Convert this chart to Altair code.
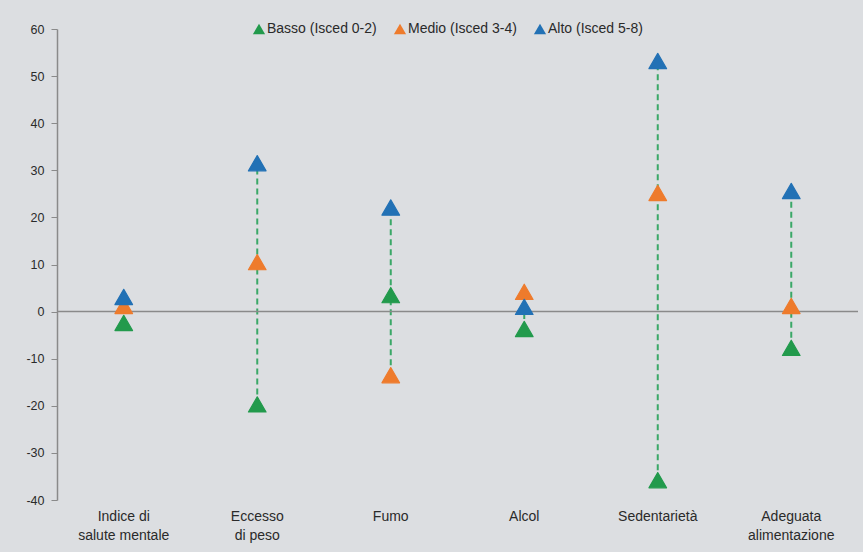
import altair as alt
import pandas as pd

categories = ["Indice di salute mentale", "Eccesso di peso", "Fumo", "Alcol",
              "Sedentarietà", "Adeguata alimentazione"]
label_lines = {
    "Indice di salute mentale": ["Indice di", "salute mentale"],
    "Eccesso di peso": ["Eccesso", "di peso"],
    "Fumo": ["Fumo"],
    "Alcol": ["Alcol"],
    "Sedentarietà": ["Sedentarietà"],
    "Adeguata alimentazione": ["Adeguata", "alimentazione"],
}
series = ["Basso (Isced 0-2)", "Medio (Isced 3-4)", "Alto (Isced 5-8)"]
basso = [-2.4, -19.7, 3.5, -3.7, -35.8, -7.7]
medio = [1.2, 10.5, -13.5, 4.2, 25.2, 1.2]
alto = [3.1, 31.5, 22.1, 1.0, 53.2, 25.6]
colors = ["#229a4c", "#ee7b2c", "#2271b5"]
y_ticks = [-40, -30, -20, -10, 0, 10, 20, 30, 40, 50, 60]

rows = []
for i, c in enumerate(categories):
    for s, vals in zip(series, [basso, medio, alto]):
        rows.append({"cat": c, "serie": s, "value": vals[i], "ord": series.index(s)})
df = pd.DataFrame(rows)

expr = ""
for c in categories:
    arr = "[" + ",".join("'" + l + "'" for l in label_lines[c]) + "]"
    expr += "datum.value == '" + c + "' ? " + arr + " : "
expr += "datum.label"

FONT = "Arial"
TXT = "#2a2a2a"

x_enc = alt.X("cat:N", sort=categories,
              scale=alt.Scale(paddingInner=0, paddingOuter=0),
              axis=alt.Axis(title=None, domain=False, ticks=False, labelAngle=0,
                            labelExpr=expr, labelFontSize=14, labelColor=TXT,
                            labelBaseline="top", labelPadding=9, labelLineHeight=19,
                            labelFont=FONT))
y_scale = alt.Scale(domain=[-40, 60], nice=False, zero=False)

base = alt.Chart(df)

rule = base.mark_rule(color="#3aa867", strokeWidth=2, strokeDash=[6, 4]).encode(
    x=x_enc,
    y=alt.Y("min(value):Q", scale=y_scale,
            axis=alt.Axis(title=None, values=y_ticks, grid=False, domainColor="#8a8a8a",
                          tickColor="#8a8a8a", tickSize=6, labelFontSize=12.5,
                          labelColor=TXT, labelPadding=7, labelFont=FONT,
                          labelExpr="toString(datum.value)",
                          domainWidth=1.5)),
    y2="max(value):Q",
)

zero = alt.Chart(pd.DataFrame({"z": [0]})).mark_rule(color="#8a8a8a", strokeWidth=1.5).encode(
    y=alt.Y("z:Q", scale=y_scale)
)

points = base.mark_point(shape="triangle-up", filled=True, size=310, opacity=1,
                         strokeWidth=1.2, strokeJoin="round").encode(
    x=alt.X("cat:N", sort=categories),
    y=alt.Y("value:Q", scale=y_scale),
    color=alt.Color("serie:N", sort=series,
                    scale=alt.Scale(domain=series, range=colors),
                    legend=alt.Legend(title=None, orient="none", direction="horizontal",
                                      legendX=195, legendY=-7, symbolType="triangle-up",
                                      symbolSize=150, symbolStrokeWidth=0,
                                      labelFontSize=14, labelColor=TXT,
                                      labelFont=FONT, labelOffset=1,
                                      columnPadding=16, padding=0)),
    stroke=alt.Color("serie:N", sort=series, scale=alt.Scale(domain=series, range=colors),
                     legend=None),
    order=alt.Order("ord:Q"),
)

chart = alt.layer(rule, zero, points).properties(
    width=801, height=471,
    autosize=alt.AutoSizeParams(type="none"),
    padding={"left": 57, "top": 29, "right": 5, "bottom": 52},
    background="#dcdee1",
).configure_view(stroke=None)

chart.save("out.html", embed_options={"renderer": "svg", "actions": False})
